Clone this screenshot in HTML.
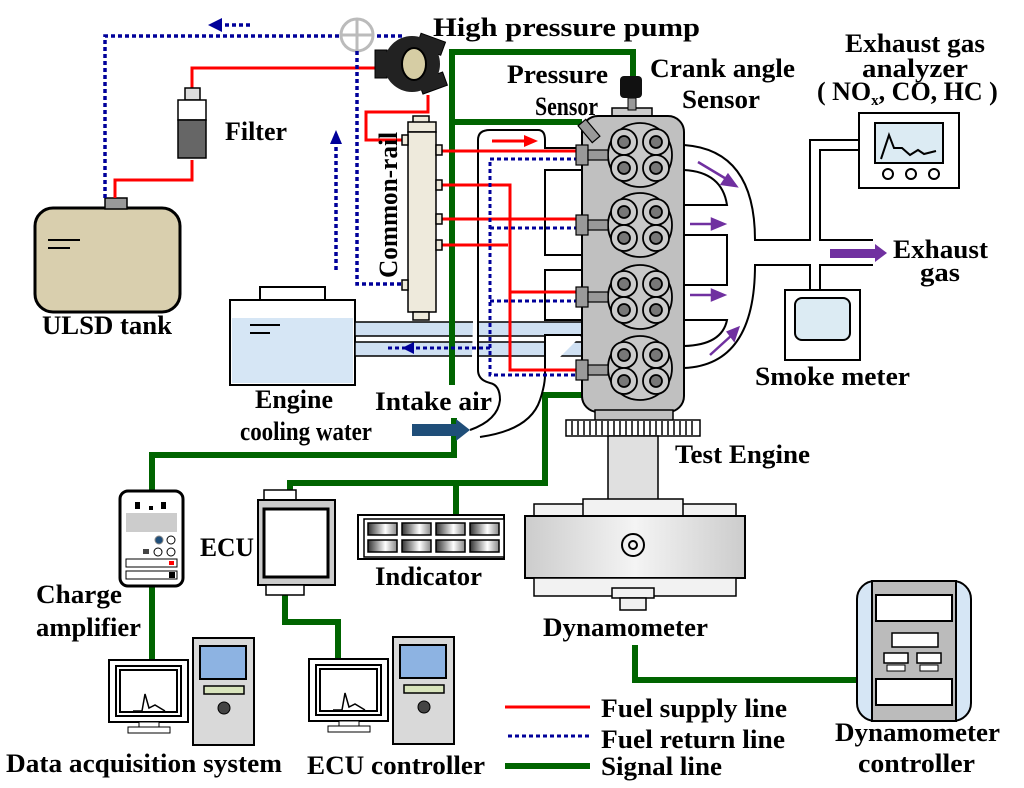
<!DOCTYPE html>
<html><head><meta charset="utf-8"><style>
html,body{margin:0;padding:0;background:#fff}
svg{display:block}
text{font-family:"Liberation Serif",serif;font-weight:bold;fill:#000;font-size:26px}
</style></head><body>
<svg width="1024" height="788" viewBox="0 0 1024 788" xmlns="http://www.w3.org/2000/svg">
<defs>
<linearGradient id="dg" x1="0" x2="1"><stop offset="0" stop-color="#ccc"/><stop offset="0.5" stop-color="#f4f4f4"/><stop offset="1" stop-color="#ccc"/></linearGradient>
<linearGradient id="ig" x1="0" x2="1"><stop offset="0" stop-color="#333"/><stop offset="0.6" stop-color="#fff"/><stop offset="1" stop-color="#888"/></linearGradient>
</defs>

<rect x="35" y="208" width="145" height="104" rx="18" fill="#d9cfae" stroke="#000" stroke-width="3"/>
<rect x="105" y="198" width="22" height="11" fill="#999" stroke="#000" stroke-width="1.5"/>
<line x1="48" y1="240" x2="80" y2="240" stroke="#000" stroke-width="2"/>
<line x1="48" y1="248" x2="70" y2="248" stroke="#000" stroke-width="2"/>
<text x="42" y="334" textLength="130" lengthAdjust="spacingAndGlyphs">ULSD tank</text>

<polyline points="105,198 105,36 405,36" fill="none" stroke="#00009a" stroke-width="3.5" stroke-dasharray="4,3"/>
<line x1="250" y1="25" x2="218" y2="25" stroke="#00009a" stroke-width="3.5" stroke-dasharray="4,3"/>
<polygon points="208,25 222,18 222,32" fill="#00009a"/>

<polyline points="115,198 115,180 192,180 192,160" fill="none" stroke="#f00" stroke-width="3"/>
<polyline points="192,90 192,68 385,68" fill="none" stroke="#f00" stroke-width="3"/>
<rect x="185" y="88" width="15" height="12" fill="#ddd" stroke="#000" stroke-width="1.5"/>
<rect x="178" y="100" width="28" height="20" fill="#fff" stroke="#000" stroke-width="1.5"/>
<rect x="178" y="120" width="28" height="38" fill="#666" stroke="#000" stroke-width="1.5"/>
<text x="225" y="140" textLength="62" lengthAdjust="spacingAndGlyphs">Filter</text>

<circle cx="357" cy="35" r="16" fill="#fff" stroke="#bbb" stroke-width="3"/>
<line x1="341" y1="35" x2="373" y2="35" stroke="#bbb" stroke-width="3"/>
<line x1="357" y1="19" x2="357" y2="51" stroke="#bbb" stroke-width="3"/>

<polyline points="357,51 357,284 410,284" fill="none" stroke="#00009a" stroke-width="3.5" stroke-dasharray="4,3"/>
<line x1="336" y1="270" x2="336" y2="142" stroke="#00009a" stroke-width="3.5" stroke-dasharray="4,3"/>
<polygon points="336,130 330,144 342,144" fill="#00009a"/>

<polyline points="428,95 428,112 366,112 366,140 410,140" fill="none" stroke="#f00" stroke-width="3"/>

<g transform="translate(412,64)">
<rect x="-37" y="-14" width="12" height="28" fill="#222" stroke="#000"/>
<rect x="-2" y="-32" width="26" height="14" fill="#222" stroke="#000" transform="rotate(20)"/>
<rect x="0" y="18" width="26" height="14" fill="#222" stroke="#000" transform="rotate(-20)"/>
<circle cx="0" cy="0" r="28" fill="#222"/>
<ellipse cx="2" cy="0" rx="12" ry="16" fill="#d6cda4" stroke="#000" stroke-width="2"/>
</g>
<text x="433" y="36" textLength="267" lengthAdjust="spacingAndGlyphs">High pressure pump</text>

<rect x="260" y="287" width="65" height="14" fill="#fff" stroke="#000" stroke-width="2"/>
<rect x="230" y="300" width="125" height="85" fill="#fff" stroke="#000" stroke-width="2"/>
<rect x="232" y="318" width="121" height="65" fill="#d6e6f5"/>
<line x1="250" y1="325" x2="280" y2="325" stroke="#000" stroke-width="2"/>
<line x1="250" y1="333" x2="270" y2="333" stroke="#000" stroke-width="2"/>
<rect x="355" y="322" width="228" height="14" fill="#cfe0f2" stroke="#000" stroke-width="1.5"/>
<rect x="355" y="342" width="228" height="14" fill="#cfe0f2" stroke="#000" stroke-width="1.5"/>
<text x="255" y="408" textLength="78" lengthAdjust="spacingAndGlyphs">Engine</text>
<text x="240" y="440" textLength="132" lengthAdjust="spacingAndGlyphs">cooling water</text>

<g fill="none" stroke="#006400" stroke-width="6">
<polyline points="452,385 452,52 633,52 633,80"/>
<line x1="452" y1="122" x2="582" y2="122"/>
<polyline points="454,418 454,455 152,455 152,492"/>
<line x1="152" y1="585" x2="152" y2="660"/>
<polyline points="290,495 290,483 545,483 545,395 582,395"/>
<line x1="456" y1="483" x2="456" y2="515"/>
<polyline points="285,590 285,622 338,622 338,660"/>
<polyline points="635,645 635,680 860,680"/>
</g>

<path d="M478,140 Q478,130 490,130 L538,130 Q545,130 545,140 L545,148 L582,148 M582,170 L545,170 L545,255 L582,255 M582,270 L545,270 L545,320 L582,320 M582,335 L545,335 L545,375 Q545,385 540,400 Q530,430 480,437 M478,140 L478,370 Q478,380 490,383 Q500,385 500,400 Q498,420 470,430" fill="#fff" stroke="#000" stroke-width="2"/>
<line x1="492" y1="141" x2="525" y2="141" stroke="#f00" stroke-width="3"/>
<polygon points="538,141 524,135 524,147" fill="#f00"/>

<g fill="none" stroke="#f00" stroke-width="3">
<line x1="440" y1="151" x2="578" y2="151"/>
<polyline points="440,185 510,185 510,292 578,292"/>
<line x1="440" y1="219" x2="578" y2="219"/>
<line x1="440" y1="245" x2="508" y2="245"/>
<polyline points="510,292 510,370 578,370"/>
</g>
<g fill="none" stroke="#00009a" stroke-width="3" stroke-dasharray="4,3">
<polyline points="578,159 490,159 490,375 578,375"/>
<line x1="490" y1="228" x2="578" y2="228"/>
<line x1="490" y1="301" x2="578" y2="301"/>
<polyline points="490,348 388,348"/>
</g>
<polygon points="402,348 414,342 414,354" fill="#00009a"/>

<rect x="413" y="116" width="16" height="8" fill="#eeeadc" stroke="#000" stroke-width="1.5"/>
<rect x="408" y="122" width="28" height="10" fill="#eeeadc" stroke="#000" stroke-width="1.5"/>
<rect x="408" y="132" width="28" height="180" fill="#eeeadc" stroke="#000" stroke-width="1.5"/>
<rect x="413" y="312" width="16" height="8" fill="#eeeadc" stroke="#000" stroke-width="1.5"/>
<g fill="#eeeadc" stroke="#000" stroke-width="1.5">
<rect x="402" y="135" width="6" height="10"/><rect x="436" y="145" width="6" height="10"/>
<rect x="436" y="180" width="6" height="10"/><rect x="436" y="214" width="6" height="10"/>
<rect x="436" y="240" width="6" height="10"/><rect x="402" y="280" width="6" height="10"/>
</g>
<text transform="translate(397,278) rotate(-90)" textLength="146" lengthAdjust="spacingAndGlyphs" font-size="24">Common-rail</text>

<rect x="612" y="108" width="40" height="10" fill="#ccc" stroke="#000" stroke-width="1.5"/>
<rect x="628" y="98" width="8" height="12" fill="#999" stroke="#000"/>
<rect x="620" y="76" width="22" height="22" rx="4" fill="#111"/>
<rect x="582" y="116" width="102" height="296" rx="16" fill="#c0c0c0" stroke="#000" stroke-width="2"/>
<g stroke="#000" stroke-width="1.8">
<g>
<circle cx="640" cy="155" r="32" fill="#c8c8c8"/>
<circle cx="624" cy="142" r="13" fill="#ccc"/><circle cx="624" cy="142" r="6" fill="#777"/>
<circle cx="656" cy="142" r="13" fill="#ccc"/><circle cx="656" cy="142" r="6" fill="#777"/>
<circle cx="624" cy="168" r="13" fill="#ccc"/><circle cx="624" cy="168" r="6" fill="#777"/>
<circle cx="656" cy="168" r="13" fill="#ccc"/><circle cx="656" cy="168" r="6" fill="#777"/>
</g>
<g transform="translate(0,70)">
<circle cx="640" cy="155" r="32" fill="#c8c8c8"/>
<circle cx="624" cy="142" r="13" fill="#ccc"/><circle cx="624" cy="142" r="6" fill="#777"/>
<circle cx="656" cy="142" r="13" fill="#ccc"/><circle cx="656" cy="142" r="6" fill="#777"/>
<circle cx="624" cy="168" r="13" fill="#ccc"/><circle cx="624" cy="168" r="6" fill="#777"/>
<circle cx="656" cy="168" r="13" fill="#ccc"/><circle cx="656" cy="168" r="6" fill="#777"/>
</g>
<g transform="translate(0,142)">
<circle cx="640" cy="155" r="32" fill="#c8c8c8"/>
<circle cx="624" cy="142" r="13" fill="#ccc"/><circle cx="624" cy="142" r="6" fill="#777"/>
<circle cx="656" cy="142" r="13" fill="#ccc"/><circle cx="656" cy="142" r="6" fill="#777"/>
<circle cx="624" cy="168" r="13" fill="#ccc"/><circle cx="624" cy="168" r="6" fill="#777"/>
<circle cx="656" cy="168" r="13" fill="#ccc"/><circle cx="656" cy="168" r="6" fill="#777"/>
</g>
<g transform="translate(0,213)">
<circle cx="640" cy="155" r="32" fill="#c8c8c8"/>
<circle cx="624" cy="142" r="13" fill="#ccc"/><circle cx="624" cy="142" r="6" fill="#777"/>
<circle cx="656" cy="142" r="13" fill="#ccc"/><circle cx="656" cy="142" r="6" fill="#777"/>
<circle cx="624" cy="168" r="13" fill="#ccc"/><circle cx="624" cy="168" r="6" fill="#777"/>
<circle cx="656" cy="168" r="13" fill="#ccc"/><circle cx="656" cy="168" r="6" fill="#777"/>
</g>
</g>
<g fill="#999" stroke="#000" stroke-width="1.2">
<rect x="576" y="145" width="12" height="20"/><rect x="588" y="150" width="20" height="10"/>
<rect x="576" y="215" width="12" height="20"/><rect x="588" y="220" width="20" height="10"/>
<rect x="576" y="287" width="12" height="20"/><rect x="588" y="292" width="20" height="10"/>
<rect x="576" y="360" width="12" height="20"/><rect x="588" y="365" width="20" height="10"/>
<rect x="584" y="120" width="10" height="22" transform="rotate(-40 589 131)"/>
</g>
<text x="507" y="83" textLength="101" lengthAdjust="spacingAndGlyphs">Pressure</text>
<text x="535" y="115" textLength="63" lengthAdjust="spacingAndGlyphs">Sensor</text>
<text x="650" y="77" textLength="145" lengthAdjust="spacingAndGlyphs">Crank angle</text>
<text x="682" y="108" textLength="78" lengthAdjust="spacingAndGlyphs">Sensor</text>

<rect x="595" y="410" width="78" height="12" fill="#c0c0c0" stroke="#000" stroke-width="1.5"/>
<rect x="566" y="420" width="134" height="16" fill="#fff" stroke="#000" stroke-width="1.5"/>
<g stroke="#000" stroke-width="1.5">
<line x1="572" y1="421" x2="572" y2="435"/><line x1="578" y1="421" x2="578" y2="435"/><line x1="584" y1="421" x2="584" y2="435"/><line x1="590" y1="421" x2="590" y2="435"/><line x1="596" y1="421" x2="596" y2="435"/><line x1="602" y1="421" x2="602" y2="435"/><line x1="608" y1="421" x2="608" y2="435"/><line x1="614" y1="421" x2="614" y2="435"/><line x1="620" y1="421" x2="620" y2="435"/><line x1="626" y1="421" x2="626" y2="435"/><line x1="632" y1="421" x2="632" y2="435"/><line x1="638" y1="421" x2="638" y2="435"/><line x1="644" y1="421" x2="644" y2="435"/><line x1="650" y1="421" x2="650" y2="435"/><line x1="656" y1="421" x2="656" y2="435"/><line x1="662" y1="421" x2="662" y2="435"/><line x1="668" y1="421" x2="668" y2="435"/><line x1="674" y1="421" x2="674" y2="435"/><line x1="680" y1="421" x2="680" y2="435"/><line x1="686" y1="421" x2="686" y2="435"/><line x1="692" y1="421" x2="692" y2="435"/>
</g>
<rect x="608" y="436" width="50" height="64" fill="#e0e0e0" stroke="#000" stroke-width="1.5"/>
<text x="675" y="463" textLength="135" lengthAdjust="spacingAndGlyphs">Test Engine</text>
<rect x="534" y="504" width="202" height="14" fill="#f2f2f2" stroke="#000" stroke-width="1.5"/>
<rect x="583" y="499" width="100" height="19" fill="#f2f2f2" stroke="#000" stroke-width="1.5"/>
<rect x="525" y="516" width="220" height="62" fill="url(#dg)" stroke="#000" stroke-width="2"/>
<circle cx="633" cy="545" r="11" fill="none" stroke="#000" stroke-width="2"/>
<circle cx="633" cy="545" r="4" fill="none" stroke="#000" stroke-width="2"/>
<rect x="534" y="578" width="202" height="18" fill="#f2f2f2" stroke="#000" stroke-width="1.5"/>
<rect x="612" y="588" width="42" height="10" fill="#f2f2f2" stroke="#000" stroke-width="1.5"/>
<rect x="620" y="598" width="26" height="12" fill="#f2f2f2" stroke="#000" stroke-width="1.5"/>
<text x="543" y="636" textLength="165" lengthAdjust="spacingAndGlyphs">Dynamometer</text>

<rect x="857" y="581" width="114" height="140" rx="18" fill="#d6e6f5" stroke="#000" stroke-width="2"/>
<rect x="872" y="581" width="84" height="140" fill="#bbb" stroke="#000" stroke-width="2"/>
<rect x="876" y="595" width="76" height="26" fill="#fff" stroke="#000" stroke-width="2"/>
<rect x="892" y="633" width="46" height="14" fill="#fff" stroke="#000" stroke-width="1.5"/>
<rect x="884" y="653" width="24" height="10" fill="#fff" stroke="#000" stroke-width="1.5"/>
<rect x="917" y="653" width="24" height="10" fill="#fff" stroke="#000" stroke-width="1.5"/>
<rect x="887" y="665" width="18" height="6" fill="#fff" stroke="#000"/>
<rect x="920" y="665" width="18" height="6" fill="#fff" stroke="#000"/>
<rect x="876" y="679" width="76" height="26" fill="#fff" stroke="#000" stroke-width="2"/>
<text x="835" y="741" textLength="165" lengthAdjust="spacingAndGlyphs">Dynamometer</text>
<text x="858" y="772" textLength="117" lengthAdjust="spacingAndGlyphs">controller</text>

<g fill="none" stroke="#000" stroke-width="2">
<path d="M684,145 Q755,150 755,240 L810,240 L810,140 L860,140"/>
<path d="M684,170 Q722,172 727,205 L684,205"/>
<path d="M684,235 L727,235 L727,285 L684,285"/>
<path d="M684,320 L727,320 Q722,345 684,346"/>
<path d="M684,368 Q755,365 755,265 L810,265 L810,290"/>
<path d="M820,290 L820,265 L873,265"/>
<path d="M873,240 L820,240 L820,150 L860,150"/>
</g>
<g stroke="#7030a0" stroke-width="2.5" fill="#7030a0">
<line x1="698" y1="162" x2="728" y2="180"/><polygon points="736,186 722,184 728,175"/>
<line x1="690" y1="224" x2="712" y2="224"/><polygon points="724,224 712,219 712,229"/>
<line x1="690" y1="295" x2="712" y2="295"/><polygon points="724,295 712,290 712,300"/>
<line x1="710" y1="355" x2="732" y2="335"/><polygon points="738,328 728,332 734,340"/>
</g>
<rect x="830" y="249" width="45" height="9" fill="#7030a0"/>
<polygon points="875,244 887,253 875,262" fill="#7030a0"/>
<text x="893" y="258" textLength="95" lengthAdjust="spacingAndGlyphs">Exhaust</text>
<text x="920" y="281" textLength="40" lengthAdjust="spacingAndGlyphs">gas</text>

<rect x="859" y="113" width="100" height="75" fill="#fff" stroke="#000" stroke-width="2"/>
<rect x="875" y="123" width="68" height="40" fill="#dcebf3" stroke="#000" stroke-width="2"/>
<polyline points="881,159 889,135 894,148 902,148 910,155 918,150 924,154 936,151" fill="none" stroke="#000" stroke-width="2"/>
<circle cx="888" cy="174" r="5" fill="#fff" stroke="#000" stroke-width="2"/>
<circle cx="911" cy="174" r="5" fill="#fff" stroke="#000" stroke-width="2"/>
<circle cx="934" cy="174" r="5" fill="#fff" stroke="#000" stroke-width="2"/>
<text x="845" y="52" textLength="140" lengthAdjust="spacingAndGlyphs">Exhaust gas</text>
<text x="862" y="77" textLength="106" lengthAdjust="spacingAndGlyphs">analyzer</text>
<text x="817" y="100" font-size="25">( NO<tspan font-size="15" dy="5">x</tspan><tspan dy="-5">, CO, HC )</tspan></text>

<rect x="785" y="290" width="75" height="70" fill="#fff" stroke="#000" stroke-width="2"/>
<rect x="795" y="298" width="55" height="42" rx="7" fill="#dcebf3" stroke="#000" stroke-width="2"/>
<text x="755" y="385" textLength="155" lengthAdjust="spacingAndGlyphs">Smoke meter</text>

<text x="375" y="410" textLength="117" lengthAdjust="spacingAndGlyphs">Intake air</text>
<rect x="412" y="424" width="46" height="12" fill="#1f4e79"/>
<polygon points="456,419 470,430 456,441" fill="#1f4e79"/>

<rect x="120" y="491" width="63" height="95" rx="8" fill="#fff" stroke="#000" stroke-width="3"/>
<rect x="126" y="513" width="51" height="19" fill="#ccc"/>
<rect x="135" y="502" width="5" height="7"/><rect x="149" y="506" width="4" height="4"/><rect x="161" y="502" width="5" height="7"/>
<circle cx="159" cy="540" r="4" fill="#1f4e79" stroke="#888"/><circle cx="171" cy="540" r="4" fill="#fff" stroke="#000"/>
<circle cx="158" cy="552" r="4" fill="#fff" stroke="#000"/><circle cx="171" cy="552" r="4" fill="#fff" stroke="#000"/>
<rect x="143" y="549" width="6" height="5" fill="#444"/>
<rect x="126" y="559" width="51" height="8" fill="#fff" stroke="#000"/><rect x="169" y="561" width="5" height="4" fill="#f00"/>
<rect x="126" y="571" width="51" height="8" fill="#fff" stroke="#000"/><rect x="169" y="572" width="6" height="6" fill="#000"/>
<text x="36" y="603" textLength="86" lengthAdjust="spacingAndGlyphs">Charge</text>
<text x="36" y="636" textLength="105" lengthAdjust="spacingAndGlyphs">amplifier</text>

<rect x="264" y="490" width="32" height="10" fill="#fff" stroke="#000" stroke-width="1.5"/>
<rect x="258" y="500" width="77" height="85" fill="#ccc" stroke="#000" stroke-width="2"/>
<rect x="264" y="509" width="64" height="68" fill="#fff" stroke="#000" stroke-width="3"/>
<rect x="266" y="585" width="38" height="10" fill="#fff" stroke="#000" stroke-width="1.5"/>
<text x="200" y="556" textLength="54" lengthAdjust="spacingAndGlyphs">ECU</text>

<rect x="358" y="515" width="146" height="44" fill="#fff" stroke="#000" stroke-width="2"/>
<rect x="364" y="519" width="140" height="38" fill="#fff" stroke="#000" stroke-width="1.5"/>
<g stroke="#000" stroke-width="1.5" fill="url(#ig)">
<rect x="368" y="523" width="29" height="12"/><rect x="402" y="523" width="29" height="12"/><rect x="436" y="523" width="29" height="12"/><rect x="470" y="523" width="29" height="12"/>
<rect x="368" y="540" width="29" height="12"/><rect x="402" y="540" width="29" height="12"/><rect x="436" y="540" width="29" height="12"/><rect x="470" y="540" width="29" height="12"/>
</g>
<text x="375" y="585" textLength="107" lengthAdjust="spacingAndGlyphs">Indicator</text>

<g>
<rect x="109" y="660" width="79" height="62" fill="#fff" stroke="#000" stroke-width="2"/>
<rect x="116" y="666" width="65" height="50" fill="#fff" stroke="#000" stroke-width="2"/>
<rect x="120" y="670" width="57" height="42" fill="#fff" stroke="#000" stroke-width="2"/>
<polyline points="133,711 142,711 145,694 149,708 155,705 165,711" fill="none" stroke="#000" stroke-width="1.5"/>
<rect x="139" y="722" width="20" height="5" fill="#fff" stroke="#000"/>
<rect x="128" y="727" width="42" height="6" fill="#fff" stroke="#000"/>
<rect x="193" y="638" width="61" height="107" fill="#d9d9d9" stroke="#000" stroke-width="2"/>
<rect x="200" y="646" width="46" height="33" fill="#8db3e2" stroke="#000" stroke-width="2"/>
<rect x="204" y="686" width="40" height="8" fill="#d8e4bc" stroke="#000" stroke-width="1.5"/>
<circle cx="224" cy="708" r="6" fill="#444" stroke="#000"/>
</g>
<g transform="translate(200,-1)">
<rect x="109" y="660" width="79" height="62" fill="#fff" stroke="#000" stroke-width="2"/>
<rect x="116" y="666" width="65" height="50" fill="#fff" stroke="#000" stroke-width="2"/>
<rect x="120" y="670" width="57" height="42" fill="#fff" stroke="#000" stroke-width="2"/>
<polyline points="133,711 142,711 145,694 149,708 155,705 165,711" fill="none" stroke="#000" stroke-width="1.5"/>
<rect x="139" y="722" width="20" height="5" fill="#fff" stroke="#000"/>
<rect x="128" y="727" width="42" height="6" fill="#fff" stroke="#000"/>
<rect x="193" y="638" width="61" height="107" fill="#d9d9d9" stroke="#000" stroke-width="2"/>
<rect x="200" y="646" width="46" height="33" fill="#8db3e2" stroke="#000" stroke-width="2"/>
<rect x="204" y="686" width="40" height="8" fill="#d8e4bc" stroke="#000" stroke-width="1.5"/>
<circle cx="224" cy="708" r="6" fill="#444" stroke="#000"/>
</g>
<text x="6" y="772" textLength="276" lengthAdjust="spacingAndGlyphs">Data acquisition system</text>
<text x="307" y="774" textLength="178" lengthAdjust="spacingAndGlyphs">ECU controller</text>

<line x1="505" y1="707" x2="590" y2="707" stroke="#f00" stroke-width="3"/>
<line x1="508" y1="736" x2="590" y2="736" stroke="#00009a" stroke-width="3" stroke-dasharray="4,3"/>
<line x1="505" y1="766" x2="590" y2="766" stroke="#006400" stroke-width="6"/>
<text x="601" y="717" textLength="186" lengthAdjust="spacingAndGlyphs">Fuel supply line</text>
<text x="601" y="748" textLength="184" lengthAdjust="spacingAndGlyphs">Fuel return line</text>
<text x="601" y="775" textLength="121" lengthAdjust="spacingAndGlyphs">Signal line</text>
</svg>
</body></html>
